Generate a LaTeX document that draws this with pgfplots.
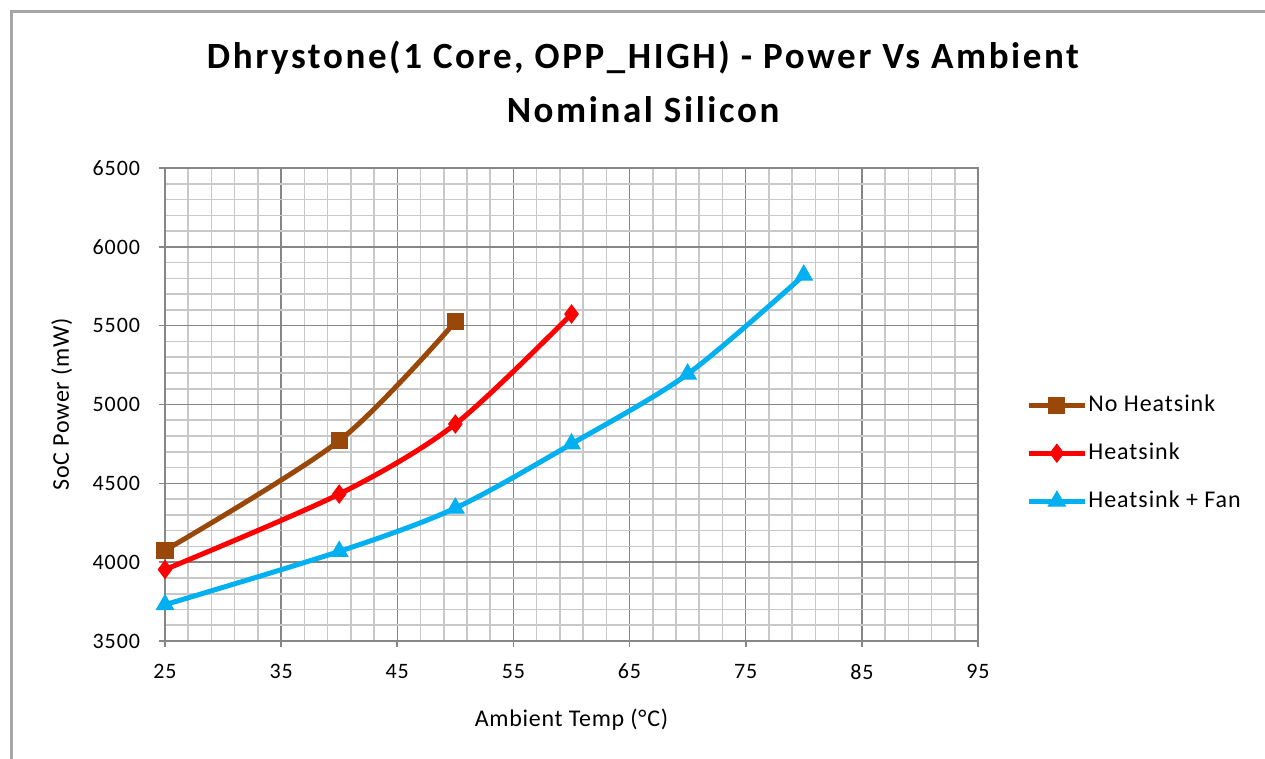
\documentclass[border=0pt]{standalone}
\usepackage{pgfplots}
\pgfplotsset{compat=1.18}
\usepackage{fontspec}
\setmainfont{Carlito}
\definecolor{cbrown}{RGB}{153,72,10}
\definecolor{cred}{RGB}{255,0,0}
\definecolor{ccyan}{RGB}{0,176,240}
\definecolor{majgrid}{RGB}{134,134,134}
\definecolor{mingrid}{RGB}{200,200,200}
\definecolor{frame}{RGB}{165,165,165}
\begin{document}
\begin{tikzpicture}
\path[use as bounding box] (0,0) rectangle (632.5bp,379.5bp);
\draw[frame, line width=1.5bp] (5.5bp,0) -- (5.5bp,373.5bp) -- (632.5bp,373.5bp);
\node[font=\fontsize{18.5bp}{20bp}\selectfont\bfseries\addfontfeatures{LetterSpace=7}, anchor=base] at (321.5bp,345bp) {Dhrystone(1 Core, OPP\_HIGH) - Power Vs Ambient};
\node[font=\fontsize{18.5bp}{20bp}\selectfont\bfseries\addfontfeatures{LetterSpace=7}, anchor=base] at (321.5bp,318bp) {Nominal Silicon};
\begin{axis}[
  at={(82.5bp,59bp)}, anchor=south west,
  width=406.5bp, height=236.5bp, scale only axis,
  xmin=25, xmax=95, ymin=3500, ymax=6500,
  xtick={25,35,...,95}, ytick={3500,4000,...,6500},
  minor x tick num=4, minor y tick num=4,
  xtick pos=bottom, ytick pos=left,
  grid=both,
  major grid style={majgrid, line width=0.7bp},
  minor grid style={mingrid, line width=0.8bp},
  axis line style={majgrid, line width=0.8bp},
  tick align=outside,
  major tick length=3bp, minor tick length=0pt,
  tick style={majgrid, line width=0.8bp},
  /pgf/number format/assume math mode=true,
  /pgf/number format/set thousands separator={},
  ticklabel style={font=\fontsize{11bp}{13bp}\selectfont\addfontfeatures{LetterSpace=4}, text=black},
  yticklabel style={xshift=-6bp},
  xticklabel style={yshift=-5bp},
  xlabel={Ambient Temp (°C)},
  ylabel={SoC Power (mW)},
  label style={font=\fontsize{12bp}{14bp}\selectfont\addfontfeatures{LetterSpace=3}},
  xlabel style={at={(axis description cs:0.5,0)}, anchor=base, yshift=-42.5bp},
  ylabel style={at={(axis description cs:0,0.5)}, anchor=base, yshift=48bp},
  legend style={at={(1,0.397)}, anchor=west, xshift=21bp, draw=none, fill=none,
    font=\fontsize{12bp}{13bp}\selectfont\addfontfeatures{LetterSpace=4},
    nodes={text height=8bp, text depth=2bp, inner sep=0.5bp},
    row sep=13bp},
  legend cell align=left,
  legend image code/.code={\draw[#1, sharp plot, mark repeat=2, mark phase=2] plot coordinates {(0bp,0bp) (14bp,0bp) (28bp,0bp)};},
  every axis plot/.append style={line width=2.5bp, smooth},
]
\addplot[cbrown, mark=square*, mark size=4bp, mark options={solid, line width=0.5bp}] coordinates {(25,4075) (40,4770) (50,5525)};
\addlegendentry{No Heatsink}
\addplot[cred, mark=diamond*, mark size=4.5bp, mark options={solid, line width=0.5bp}] coordinates {(25,3953) (40,4432) (50,4876) (60,5574)};
\addlegendentry{Heatsink}
\addplot[ccyan, mark=triangle*, mark size=5bp, mark options={solid, line width=0.5bp}] coordinates {(25,3730) (40,4068) (50,4343) (60,4750) (70,5193) (80,5820)};
\addlegendentry{Heatsink + Fan}
\end{axis}
\end{tikzpicture}
\end{document}
